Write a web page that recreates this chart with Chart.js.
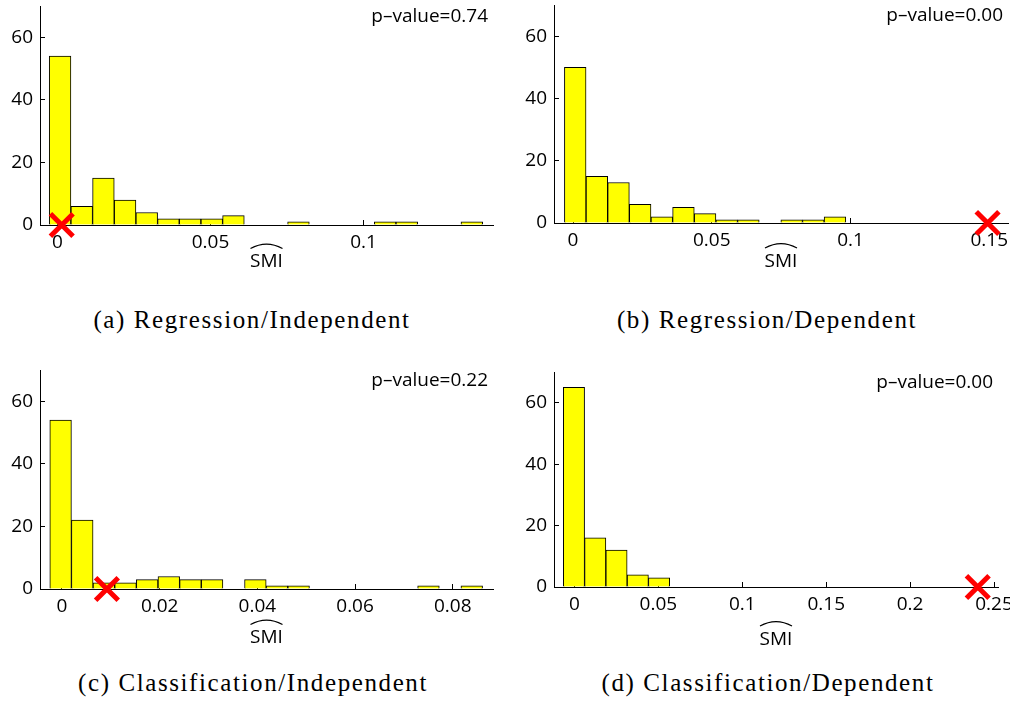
<!DOCTYPE html>
<html>
<head>
<meta charset="utf-8">
<script src="https://cdn.jsdelivr.net/npm/chart.js@4.4.1/dist/chart.umd.min.js"></script>
<style>
  body { margin: 0; background: #fff; }
  #page { position: relative; width: 1010px; height: 717px; overflow: hidden; }
  #page canvas { position: absolute; }
  .caption {
    position: absolute;
    transform: translate(-50%, -50%);
    font-family: "Liberation Serif", serif;
    font-size: 25px;
    letter-spacing: 1.6px;
    white-space: nowrap;
    color: #000;
  }
</style>
</head>
<body>
<div id="page">
  <canvas id="histA" width="505" height="300" style="left:0;top:0"></canvas>
  <canvas id="histB" width="505" height="300" style="left:505px;top:0"></canvas>
  <canvas id="histC" width="505" height="300" style="left:0;top:360px"></canvas>
  <canvas id="histD" width="505" height="300" style="left:505px;top:360px"></canvas>
  <div class="caption" style="left:252px;top:320px">(a) Regression/Independent</div>
  <div class="caption" style="left:767px;top:320px">(b) Regression/Dependent</div>
  <div class="caption" style="left:253px;top:683px">(c) Classification/Independent</div>
  <div class="caption" style="left:768px;top:683px">(d) Classification/Dependent</div>
</div>
<script>
// null-distribution histograms: bin centres and counts
const binsA = [0.00086, 0.00794, 0.01502, 0.02210, 0.02918, 0.03626, 0.04334, 0.05042, 0.05750, 0.06458,
               0.07166, 0.07874, 0.08582, 0.09290, 0.09998, 0.10706, 0.11414, 0.12122, 0.12830, 0.13538];
const countsA = [54, 6, 15, 8, 4, 2, 2, 2, 3, 0, 0, 1, 0, 0, 0, 1, 1, 0, 0, 1];

const binsB = [0.0008, 0.0086, 0.0164, 0.0242, 0.0320, 0.0398, 0.0476, 0.0554, 0.0632, 0.0710,
               0.0788, 0.0866, 0.0944];
const countsB = [50, 15, 13, 6, 2, 5, 3, 1, 1, 0, 1, 1, 2];

const binsC = [-0.00028, 0.00415, 0.00858, 0.01301, 0.01744, 0.02187, 0.02630, 0.03073, 0.03516, 0.03959,
               0.04402, 0.04845, 0.05288, 0.05731, 0.06174, 0.06617, 0.07060, 0.07503, 0.07946, 0.08389];
const countsC = [54, 22, 2, 2, 3, 4, 3, 3, 0, 3, 1, 1, 0, 0, 0, 0, 0, 1, 0, 1];

const binsD = [-0.00033, 0.01235, 0.02503, 0.03771, 0.05039];
const countsD = [65, 16, 12, 4, 3];

// observed SMI statistic (red cross)
const statA = 0.0014;
const statB = 0.1494;
const statC = 0.0092;
const statD = 0.2403;

const pValues = ['0.74', '0.00', '0.22', '0.00'];

// axis ticks and limits
const yTicks = [0, 20, 40, 60];
const yMax = 70;
const xTicksA = [0, 0.05, 0.1];
const xTicksB = [0, 0.05, 0.1, 0.15];
const xTicksC = [0, 0.02, 0.04, 0.06, 0.08];
const xTicksD = [0, 0.05, 0.1, 0.15, 0.2, 0.25];
const xRangeA = [-0.0057, 0.1423];
const xRangeB = [-0.00685, 0.15676];
const xRangeC = [-0.0045, 0.08824];
const xRangeD = [-0.01222, 0.25238];

const sansFont = { family: '"Open Sans", sans-serif', size: 19 };

// p-value text in the top right corner of the plot area
const pValuePlugin = {
  id: 'pvalue',
  afterDraw(chart, args, opts) {
    const { ctx, chartArea } = chart;
    ctx.save();
    ctx.font = '19px "Open Sans", sans-serif';
    ctx.fillStyle = '#000';
    ctx.textAlign = 'right';
    ctx.textBaseline = 'middle';
    ctx.fillText('p\u2013value=' + opts.text, chartArea.right - 5, chartArea.top + 10.5);
    ctx.restore();
  }
};

// wide hat over the x axis title
const hatPlugin = {
  id: 'hat',
  afterDraw(chart) {
    const s = chart.scales.x;
    const t = s.options.title;
    const lh = Chart.helpers.toFont(t.font).lineHeight;
    const cx = (s.left + s.right) / 2;
    const ty = s.bottom - t.padding.bottom - lh / 2;
    const ctx = chart.ctx;
    ctx.save();
    ctx.strokeStyle = '#000';
    ctx.lineWidth = 1.2;
    ctx.beginPath();
    ctx.moveTo(cx - 16, ty - 13);
    ctx.quadraticCurveTo(cx, ty - 22, cx + 16, ty - 13);
    ctx.stroke();
    ctx.restore();
  }
};

// fixed axis sizes, and no extra room for overhanging labels
function fixSize(s, w, h) {
  if (w !== null) s.width = w;
  if (h !== null) s.height = h;
  s.paddingTop = 0;
  s.paddingBottom = 0;
  s.paddingLeft = 0;
  s.paddingRight = 0;
}

function makeHist(id, bins, counts, stat, xTicks, xRange, pValue, box) {
  const canvas = document.getElementById(id);
  const axisGrid = {
    display: true,
    offset: false,
    drawOnChartArea: false,
    drawTicks: true,
    tickLength: -5,
    color: '#000'
  };
  return new Chart(canvas.getContext('2d'), {
    type: 'bar',
    data: {
      datasets: [{
        data: bins.map((x, i) => ({ x: x, y: counts[i] })),
        backgroundColor: '#ffff00',
        borderColor: '#000',
        borderWidth: 1,
        barPercentage: 1,
        categoryPercentage: 1,
        order: 2
      }, {
        type: 'scatter',
        data: [{ x: stat, y: 0 }],
        pointStyle: 'crossRot',
        pointRadius: 16,
        pointHoverRadius: 16,
        borderWidth: 5,
        borderColor: '#ff0000',
        clip: false,
        order: 1
      }]
    },
    options: {
      responsive: false,
      animation: false,
      layout: {
        autoPadding: false,
        padding: { top: box.top, right: canvas.width - box.right, left: 0, bottom: 0 }
      },
      plugins: {
        legend: { display: false },
        tooltip: { enabled: false },
        pvalue: { text: pValue }
      },
      scales: {
        x: {
          type: 'linear',
          offset: false,
          min: xRange[0],
          max: xRange[1],
          afterBuildTicks: s => { s.ticks = xTicks.map(v => ({ value: v })); },
          afterFit: s => fixSize(s, null, canvas.height - box.bottom),
          grid: axisGrid,
          border: { color: '#000', width: 1 },
          ticks: {
            padding: 11,
            color: '#000',
            font: sansFont,
            maxRotation: 0,
            autoSkip: false,
            callback: v => String(v)
          },
          title: {
            display: true,
            text: 'SMI',
            color: '#000',
            font: sansFont,
            padding: { top: 0, bottom: box.titlePad }
          }
        },
        y: {
          min: 0,
          max: yMax,
          afterBuildTicks: s => { s.ticks = yTicks.map(v => ({ value: v })); },
          afterFit: s => fixSize(s, box.yWidth, null),
          grid: axisGrid,
          border: { color: '#000', width: 1 },
          ticks: {
            padding: 12,
            color: '#000',
            font: sansFont
          }
        }
      }
    },
    plugins: [pValuePlugin, hatPlugin]
  });
}

makeHist('histA', binsA, countsA, statA, xTicksA, xRangeA, pValues[0],
  { top: 6, right: 493, yWidth: 40, bottom: 225, titlePad: 27 });
makeHist('histB', binsB, countsB, statB, xTicksB, xRangeB, pValues[1],
  { top: 5, right: 503, yWidth: 49, bottom: 223, titlePad: 27.5 });
makeHist('histC', binsC, countsC, statC, xTicksC, xRangeC, pValues[2],
  { top: 10, right: 493, yWidth: 40, bottom: 229, titlePad: 11 });
makeHist('histD', binsD, countsD, statD, xTicksD, xRangeD, pValues[3],
  { top: 12, right: 493, yWidth: 49, bottom: 227, titlePad: 9.5 });
</script>
</body>
</html>
